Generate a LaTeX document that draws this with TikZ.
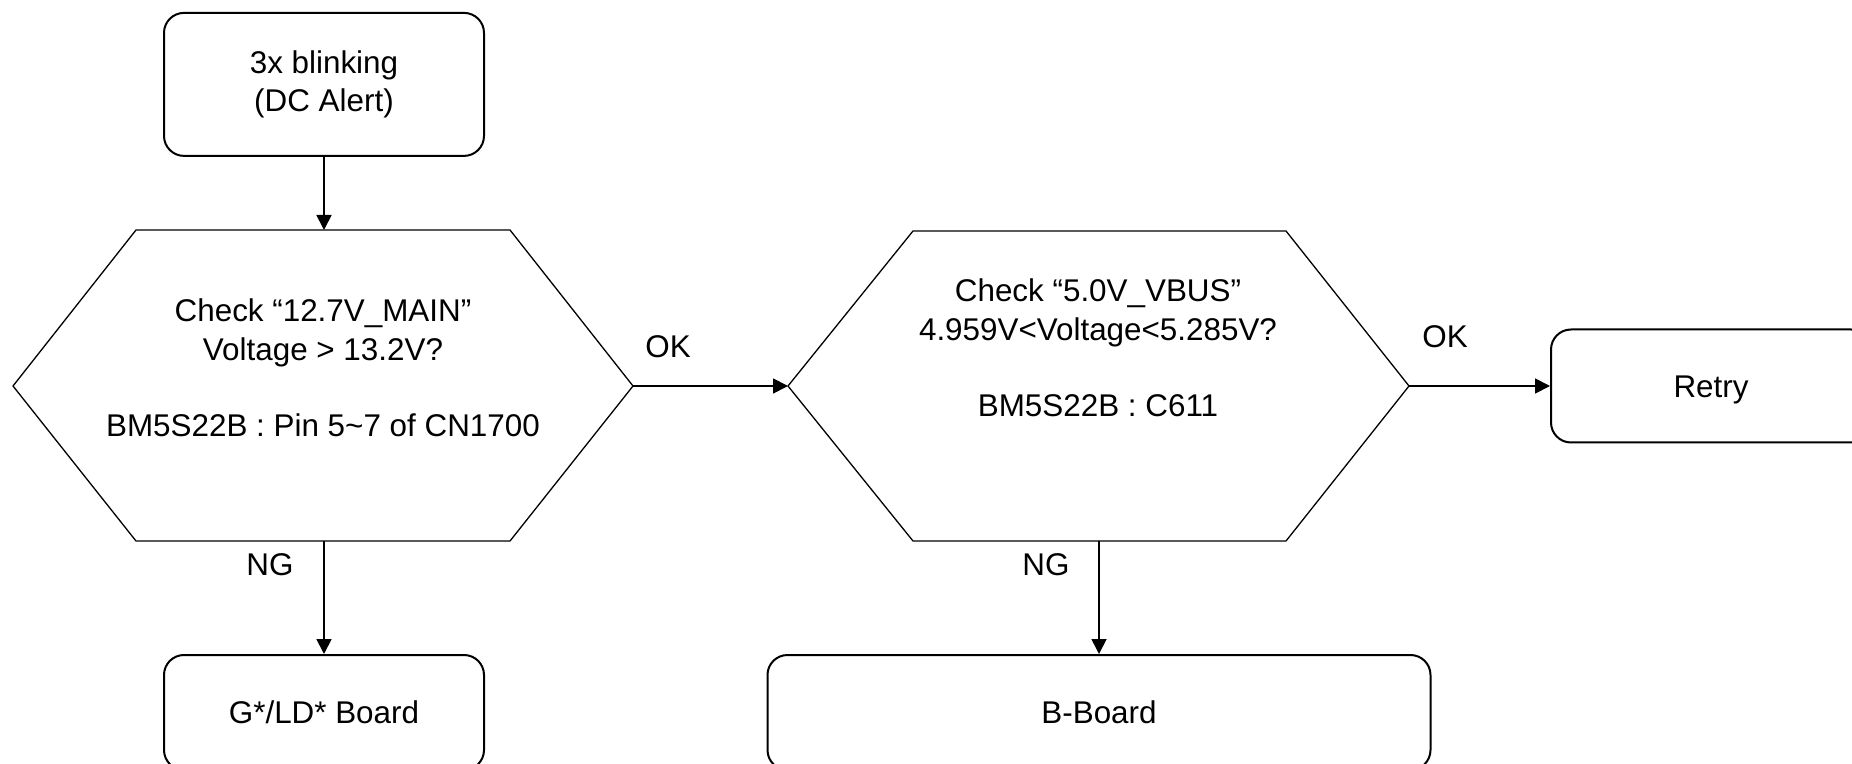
\documentclass[tikz,border=0pt]{standalone}
\usepackage{fontspec}
\setmainfont{Liberation Sans}
\usetikzlibrary{arrows.meta}
\tikzset{
  txt/.style={font=\fontsize{15.7}{19.1}\selectfont, inner sep=0pt},
  boxnode/.style={draw, line width=1pt, rounded corners=10pt, align=center,
    font=\fontsize{15.7}{19.1}\selectfont, inner sep=0pt},
  hexline/.style={draw, line width=0.65pt, line join=miter},
  conn/.style={line width=0.9pt, -{Triangle[length=7.5pt,width=7.5pt]}},
}
\begin{document}
\begin{tikzpicture}[x=0.5pt,y=-0.5pt]
\useasboundingbox (0,0) rectangle (1852,764);
\fill[white] (0,0) rectangle (1852,764);
\clip (0,0) rectangle (1852,764);

% boxes
\node[boxnode, minimum width=160pt, minimum height=71.5pt] (start) at (324,84.4)
  {3x blinking\\(DC Alert)};
\node[boxnode, minimum width=160pt, minimum height=57.5pt, text height=11.3pt, text depth=0pt] (gld) at (324,712.5)
  {G*/LD* Board};
\node[boxnode, minimum width=331.5pt, minimum height=57.5pt, text height=11.3pt, text depth=0pt] (bb) at (1099,712.5)
  {B-Board};
\node[boxnode, minimum width=160pt, minimum height=56.5pt, text height=11.3pt, text depth=0pt] (retry) at (1711,386)
  {Retry};

% hexagon 1
\path[hexline] (13,386) -- (136,230) -- (510,230) -- (633,386) -- (510,541) -- (136,541) -- cycle;
\coordinate (h1t) at (324,230);
\coordinate (h1b) at (324,541);
\coordinate (h1r) at (633,386);
\node[txt, anchor=base] (h1txt) at (323,322)
  {\begin{tabular}[t]{@{}c@{}}Check “12.7V\_MAIN”\\Voltage > 13.2V?\\ \\BM5S22B : Pin 5\textasciitilde7 of CN1700\end{tabular}};

% hexagon 2
\path[hexline] (788,386) -- (913,231) -- (1286,231) -- (1409,386) -- (1286,541) -- (913,541) -- cycle;
\coordinate (h2l) at (788,386);
\coordinate (h2b) at (1099,541);
\coordinate (h2r) at (1409,386);
\node[txt, anchor=base] (h2txt) at (1098,302)
  {\begin{tabular}[t]{@{}c@{}}Check “5.0V\_VBUS”\\4.959V<Voltage<5.285V?\\ \\BM5S22B : C611\end{tabular}};

% connectors
\draw[conn] (start.south) -- (h1t);
\draw[conn] (h1r) -- (h2l);
\draw[conn] (h2r) -- (retry.west);
\draw[conn] (h1b) -- (gld.north);
\draw[conn] (h2b) -- (bb.north);

% labels
\node[txt, anchor=base] (ok1) at (668,358) {OK};
\node[txt, anchor=base] (ok2) at (1445,348) {OK};
\node[txt, anchor=base] (ng1) at (270,575) {NG};
\node[txt, anchor=base] (ng2) at (1046,575) {NG};
\end{tikzpicture}
\end{document}
